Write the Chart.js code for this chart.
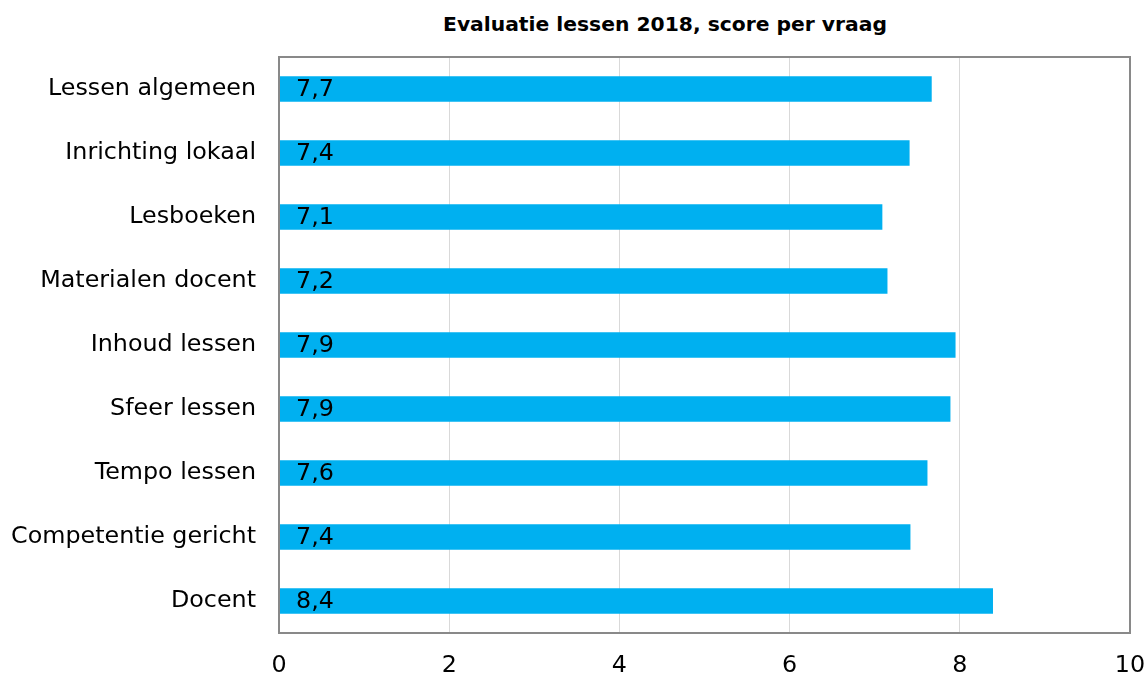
<!DOCTYPE html>
<html><head><meta charset="utf-8">
<script src="https://cdn.jsdelivr.net/npm/chart.js@4/dist/chart.umd.min.js"></script>
<style>
html,body{margin:0;padding:0;background:#fff;}
#wrap{position:relative;width:1148px;height:674px;}
#title{position:absolute;left:415px;top:12px;width:500px;text-align:center;font-family:"DejaVu Sans";font-weight:bold;font-size:20.3px;color:#000;white-space:nowrap;}
canvas{position:absolute;left:0;top:0;}
</style></head>
<body><div id="wrap"><div id="title">Evaluatie lessen 2018, score per vraag</div><canvas id="c" width="1148" height="674"></canvas></div>
<script>
const categories = ["Lessen algemeen","Inrichting lokaal","Lesboeken","Materialen docent","Inhoud lessen","Sfeer lessen","Tempo lessen","Competentie gericht","Docent"];
const scores = [7.67,7.41,7.09,7.15,7.95,7.89,7.62,7.42,8.39];
const scoreLabels = ["7,7","7,4","7,1","7,2","7,9","7,9","7,6","7,4","8,4"];
const xTicks = [0,2,4,6,8,10];

const FONT = "DejaVu Sans";
const FS = 23.8;
const labelPlugin = {
  id:'lbl',
  afterDatasetsDraw(chart){
    const ctx=chart.ctx; const meta=chart.getDatasetMeta(0);
    ctx.save(); ctx.fillStyle='#000'; ctx.font=FS+'px "'+FONT+'"'; ctx.textBaseline='middle'; ctx.textAlign='left';
    meta.data.forEach((bar,i)=>{ ctx.fillText(scoreLabels[i], chart.scales.x.getPixelForValue(0)+17, bar.y+1); });
    ctx.restore();
  },
  afterDraw(chart){
    const a=chart.chartArea, ctx=chart.ctx;
    ctx.save(); ctx.strokeStyle='#898989'; ctx.lineWidth=2;
    ctx.strokeRect(a.left,a.top,a.right-a.left,a.bottom-a.top); ctx.restore();
  }
};
new Chart(document.getElementById('c'),{
  type:'bar',
  data:{labels:categories,datasets:[{data:scores,backgroundColor:'#00B0F0',categoryPercentage:1,barPercentage:0.4}]},
  options:{
    indexAxis:'y',responsive:false,animation:false,
    layout:{padding:{top:57,right:18,bottom:0,left:0}},
    plugins:{legend:{display:false},tooltip:{enabled:false},title:{display:false}},
    scales:{
      x:{min:0,max:10,afterBuildTicks(ax){ax.ticks=xTicks.map(v=>({value:v}));},
        afterFit(s){s.height=41;s.paddingLeft=0;s.paddingRight=0;},
        grid:{color:'#d9d9d9',lineWidth:1,drawTicks:false},border:{display:false},
        ticks:{color:'#000',font:{family:FONT,size:FS},padding:19,maxRotation:0}},
      y:{afterFit(s){s.width=279;s.paddingTop=0;s.paddingBottom=0;},
        grid:{display:false,drawTicks:false},border:{display:false},
        ticks:{color:'#000',font:{family:FONT,size:FS},padding:23}}
    }
  },
  plugins:[labelPlugin]
});
</script></body></html>
